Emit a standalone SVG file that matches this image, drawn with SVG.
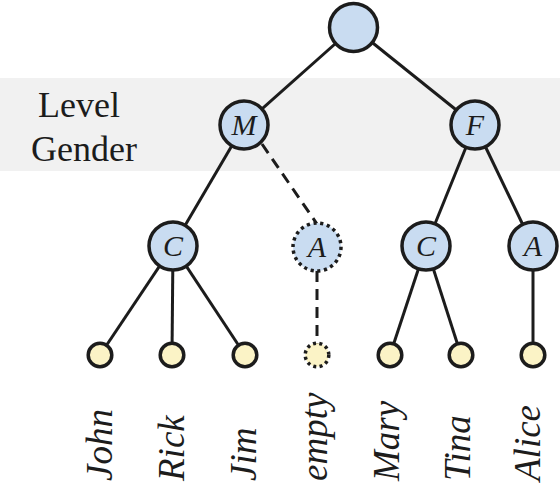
<svg xmlns="http://www.w3.org/2000/svg" width="560" height="483" viewBox="0 0 560 483">
<style>
.n{fill:#c9dcf1;stroke:#1c1c1c;stroke-width:3.5}
.nd{fill:#c9dcf1;stroke:#1c1c1c;stroke-width:3.5;stroke-dasharray:3.2 3.6}
.l{fill:#fbf3c6;stroke:#1c1c1c;stroke-width:3.5}
.ld{fill:#fbf3c6;stroke:#1c1c1c;stroke-width:3.5;stroke-dasharray:3 3.4}
.e{stroke:#1c1c1c;stroke-width:3;fill:none}
.ed{stroke:#1c1c1c;stroke-width:3;fill:none;stroke-dasharray:11 7}
</style>
<rect x="0" y="78" width="560" height="93" fill="#f1f1f1"/>
<text x="38" y="117" font-size="36" fill="#1c1c1c" font-family="'Liberation Serif'">Level</text>
<text x="31" y="161" font-size="36" fill="#1c1c1c" font-family="'Liberation Serif'">Gender</text>
<g id="connectors">
<line class="e" x1="353.5" y1="27.5" x2="244" y2="125"/>
<line class="e" x1="353.5" y1="27.5" x2="475" y2="125"/>
<line class="e" x1="244" y1="125" x2="173" y2="246"/>
<line class="ed" x1="262" y1="144" x2="317" y2="224"/>
<line class="e" x1="475" y1="125" x2="426" y2="246"/>
<line class="e" x1="475" y1="125" x2="533" y2="246"/>
<line class="e" x1="173" y1="246" x2="100" y2="355"/>
<line class="e" x1="173" y1="246" x2="172" y2="355"/>
<line class="e" x1="173" y1="246" x2="245" y2="355"/>
<line class="ed" x1="317" y1="271" x2="317" y2="344"/>
<line class="e" x1="426" y1="246" x2="390" y2="355"/>
<line class="e" x1="426" y1="246" x2="461" y2="355"/>
<line class="e" x1="533" y1="246" x2="533" y2="355"/>
</g>
<g id="root"><circle class="n" cx="353.5" cy="27.5" r="24"/></g>
<g id="M"><circle class="n" cx="244" cy="125" r="24"/><text x="244" y="135" font-size="30" font-style="italic" text-anchor="middle" fill="#1c1c1c" font-family="'Liberation Serif'">M</text></g>
<g id="F"><circle class="n" cx="475" cy="125" r="24"/><text x="475" y="135" font-size="30" font-style="italic" text-anchor="middle" fill="#1c1c1c" font-family="'Liberation Serif'">F</text></g>
<g id="C1"><circle class="n" cx="173" cy="246" r="24"/><text x="173" y="256" font-size="30" font-style="italic" text-anchor="middle" fill="#1c1c1c" font-family="'Liberation Serif'">C</text></g>
<g id="A1"><circle class="nd" cx="317" cy="247" r="24"/><text x="317" y="257" font-size="30" font-style="italic" text-anchor="middle" fill="#1c1c1c" font-family="'Liberation Serif'">A</text></g>
<g id="C2"><circle class="n" cx="426" cy="246" r="24"/><text x="426" y="256" font-size="30" font-style="italic" text-anchor="middle" fill="#1c1c1c" font-family="'Liberation Serif'">C</text></g>
<g id="A2"><circle class="n" cx="533" cy="246" r="24"/><text x="533" y="256" font-size="30" font-style="italic" text-anchor="middle" fill="#1c1c1c" font-family="'Liberation Serif'">A</text></g>
<g id="John"><circle class="l" cx="100" cy="355" r="11.8"/><text transform="translate(112,481) rotate(-90)" font-size="37" font-style="italic" fill="#1c1c1c" font-family="'Liberation Serif'">John</text></g>
<g id="Rick"><circle class="l" cx="172" cy="355" r="11.8"/><text transform="translate(184,481) rotate(-90)" font-size="37" font-style="italic" fill="#1c1c1c" font-family="'Liberation Serif'">Rick</text></g>
<g id="Jim"><circle class="l" cx="245" cy="355" r="11.8"/><text transform="translate(256,481) rotate(-90)" font-size="37" font-style="italic" fill="#1c1c1c" font-family="'Liberation Serif'">Jim</text></g>
<g id="empty"><circle class="ld" cx="317" cy="355" r="11.8"/><text transform="translate(327,481) rotate(-90)" font-size="37" font-style="italic" fill="#1c1c1c" font-family="'Liberation Serif'">empty</text></g>
<g id="Mary"><circle class="l" cx="390" cy="355" r="11.8"/><text transform="translate(399,481) rotate(-90)" font-size="37" font-style="italic" fill="#1c1c1c" font-family="'Liberation Serif'">Mary</text></g>
<g id="Tina"><circle class="l" cx="461" cy="355" r="11.8"/><text transform="translate(470,481) rotate(-90)" font-size="37" font-style="italic" fill="#1c1c1c" font-family="'Liberation Serif'">Tina</text></g>
<g id="Alice"><circle class="l" cx="533" cy="355" r="11.8"/><text transform="translate(540,481) rotate(-90)" font-size="37" font-style="italic" fill="#1c1c1c" font-family="'Liberation Serif'">Alice</text></g>
</svg>
